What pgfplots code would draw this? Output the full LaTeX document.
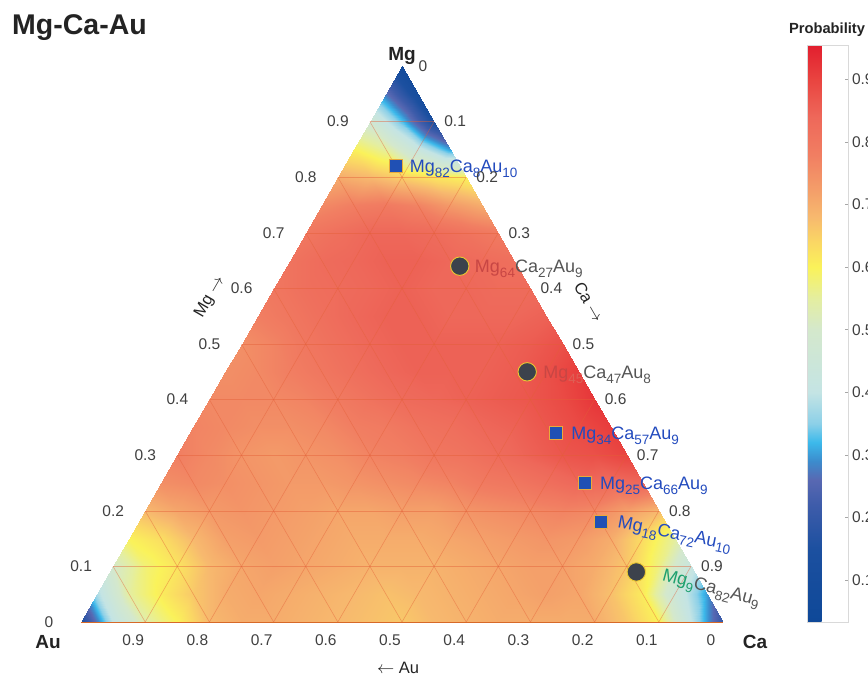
\documentclass[border=0pt]{standalone}
\usepackage{fontspec}
\setmainfont{Liberation Sans}
\usepackage{pgfplots}
\pgfplotsset{compat=1.18}
\definecolor{tickgray}{RGB}{64,64,64}
\definecolor{titlec}{RGB}{35,35,35}
\definecolor{lblue}{RGB}{35,75,190}
\definecolor{lgray}{RGB}{85,85,85}
\definecolor{lred}{RGB}{200,70,68}
\definecolor{lred2}{RGB}{222,95,85}
\definecolor{lgreen}{RGB}{30,160,110}
\definecolor{mblue}{RGB}{32,80,180}
\definecolor{medge}{RGB}{232,170,60}
\definecolor{cdark}{RGB}{60,66,76}
\definecolor{cedge}{RGB}{235,200,50}
\definecolor{gridc}{RGB}{228,95,55}
\definecolor{edgec}{RGB}{215,105,40}
\pgfplotsset{colormap={prob}{
rgb255(0pt)=(14,72,152);
rgb255(117pt)=(28,80,160);
rgb255(187pt)=(62,92,170);
rgb255(227pt)=(88,104,178);
rgb255(257pt)=(60,140,205);
rgb255(287pt)=(60,185,235);
rgb255(317pt)=(140,208,232);
rgb255(367pt)=(196,228,228);
rgb255(467pt)=(212,232,204);
rgb255(517pt)=(228,238,160);
rgb255(567pt)=(250,242,90);
rgb255(607pt)=(250,215,100);
rgb255(647pt)=(247,185,110);
rgb255(687pt)=(244,160,106);
rgb255(747pt)=(241,126,98);
rgb255(807pt)=(238,104,90);
rgb255(867pt)=(233,68,64);
rgb255(922pt)=(226,30,46)}}
\newcommand{\sbs}[1]{\raisebox{-5bp}{\fontsize{13.5bp}{14bp}\selectfont #1}}
\newcommand{\lbl}{\fontsize{18bp}{20bp}\selectfont}
\newcommand{\tkf}{\fontsize{15.5bp}{17bp}\selectfont}
\newcommand{\axf}{\fontsize{16.5bp}{18bp}\selectfont}
\newcommand{\vxf}{\bfseries\fontsize{19bp}{21bp}\selectfont}
\tikzset{gridl/.style={draw=gridc, draw opacity=0.45, line width=0.6bp},
         edgel/.style={draw=edgec, line width=0.9bp}}
\begin{document}
\begin{tikzpicture}[x=1bp,y=1bp]
\useasboundingbox (0,0) rectangle (868,677);
\begin{axis}[
  at={(81bp,55bp)}, anchor=south west,
  width=642bp, height=556bp, scale only axis,
  view={0}{90},
  xmin=0, xmax=1, ymin=0, ymax=0.8660254, zmin=-1, zmax=1,
  hide axis, clip=false,
  colormap name=prob,
  point meta min=0.033, point meta max=0.955,
  colorbar,
  colorbar style={
    at={(parent axis.south east)}, anchor=south west, xshift=76bp,
    width=41bp, height=577bp, scale only axis,
    ytick={0.1,0.2,0.3,0.4,0.5,0.6,0.7,0.8,0.9},
    ytick pos=right, yticklabel pos=right,
    tick align=inside, major tick length=4bp,
    major tick style={draw=gray!70, line width=0.6bp},
    axis line style={draw=gray!30, line width=0.5bp},
    yticklabel style={font=\tkf, text=tickgray, /pgf/number format/fixed, /pgf/number format/precision=1, /pgf/number format/assume math mode=true},
  },
]
\addplot3[surf, shader=interp, mesh/rows=21, mesh/cols=21, point meta=\thisrow{p}]
 table[row sep=\\, x expr=\thisrow{Ca}+0.5*\thisrow{Mg}, y expr=0.8660254*\thisrow{Mg}, z expr=0] {
Mg Ca p\\
0 0 0.15\\ 0 0.05 0.40\\ 0 0.1 0.54\\ 0 0.15 0.60\\ 0 0.2 0.68\\ 0 0.25 0.70\\ 0 0.3 0.70\\ 0 0.35 0.69\\ 0 0.4 0.68\\ 0 0.45 0.67\\ 0 0.5 0.66\\ 0 0.55 0.68\\ 0 0.6 0.69\\ 0 0.65 0.70\\ 0 0.7 0.70\\ 0 0.75 0.70\\ 0 0.8 0.70\\ 0 0.85 0.66\\ 0 0.9 0.60\\ 0 0.95 0.40\\ 0 1 0.20\\
0.05 0 0.38\\ 0.05 0.05 0.55\\ 0.05 0.1 0.61\\ 0.05 0.15 0.66\\ 0.05 0.2 0.70\\ 0.05 0.25 0.71\\ 0.05 0.3 0.70\\ 0.05 0.35 0.69\\ 0.05 0.4 0.68\\ 0.05 0.45 0.67\\ 0.05 0.5 0.68\\ 0.05 0.55 0.69\\ 0.05 0.6 0.70\\ 0.05 0.65 0.71\\ 0.05 0.7 0.72\\ 0.05 0.75 0.71\\ 0.05 0.8 0.67\\ 0.05 0.85 0.61\\ 0.05 0.9 0.45\\ 0.05 0.95 0.30\\ 0.05 0.95 0.30\\
0.1 0 0.50\\ 0.1 0.05 0.58\\ 0.1 0.1 0.62\\ 0.1 0.15 0.68\\ 0.1 0.2 0.71\\ 0.1 0.25 0.72\\ 0.1 0.3 0.71\\ 0.1 0.35 0.70\\ 0.1 0.4 0.69\\ 0.1 0.45 0.69\\ 0.1 0.5 0.69\\ 0.1 0.55 0.70\\ 0.1 0.6 0.71\\ 0.1 0.65 0.72\\ 0.1 0.7 0.72\\ 0.1 0.75 0.70\\ 0.1 0.8 0.66\\ 0.1 0.85 0.57\\ 0.1 0.9 0.42\\ 0.1 0.9 0.42\\ 0.1 0.9 0.42\\
0.15 0 0.60\\ 0.15 0.05 0.63\\ 0.15 0.1 0.68\\ 0.15 0.15 0.72\\ 0.15 0.2 0.73\\ 0.15 0.25 0.72\\ 0.15 0.3 0.71\\ 0.15 0.35 0.70\\ 0.15 0.4 0.70\\ 0.15 0.45 0.70\\ 0.15 0.5 0.71\\ 0.15 0.55 0.72\\ 0.15 0.6 0.73\\ 0.15 0.65 0.74\\ 0.15 0.7 0.73\\ 0.15 0.75 0.70\\ 0.15 0.8 0.63\\ 0.15 0.85 0.55\\ 0.15 0.85 0.55\\ 0.15 0.85 0.55\\ 0.15 0.85 0.55\\
0.2 0 0.68\\ 0.2 0.05 0.71\\ 0.2 0.1 0.73\\ 0.2 0.15 0.74\\ 0.2 0.2 0.73\\ 0.2 0.25 0.72\\ 0.2 0.3 0.71\\ 0.2 0.35 0.71\\ 0.2 0.4 0.72\\ 0.2 0.45 0.72\\ 0.2 0.5 0.74\\ 0.2 0.55 0.75\\ 0.2 0.6 0.76\\ 0.2 0.65 0.77\\ 0.2 0.7 0.76\\ 0.2 0.75 0.72\\ 0.2 0.8 0.68\\ 0.2 0.8 0.68\\ 0.2 0.8 0.68\\ 0.2 0.8 0.68\\ 0.2 0.8 0.68\\
0.25 0 0.75\\ 0.25 0.05 0.76\\ 0.25 0.1 0.75\\ 0.25 0.15 0.74\\ 0.25 0.2 0.73\\ 0.25 0.25 0.73\\ 0.25 0.3 0.74\\ 0.25 0.35 0.75\\ 0.25 0.4 0.76\\ 0.25 0.45 0.77\\ 0.25 0.5 0.79\\ 0.25 0.55 0.80\\ 0.25 0.6 0.82\\ 0.25 0.65 0.84\\ 0.25 0.7 0.83\\ 0.25 0.75 0.84\\ 0.25 0.75 0.84\\ 0.25 0.75 0.84\\ 0.25 0.75 0.84\\ 0.25 0.75 0.84\\ 0.25 0.75 0.84\\
0.3 0 0.78\\ 0.3 0.05 0.76\\ 0.3 0.1 0.74\\ 0.3 0.15 0.73\\ 0.3 0.2 0.74\\ 0.3 0.25 0.75\\ 0.3 0.3 0.77\\ 0.3 0.35 0.78\\ 0.3 0.4 0.80\\ 0.3 0.45 0.81\\ 0.3 0.5 0.83\\ 0.3 0.55 0.85\\ 0.3 0.6 0.87\\ 0.3 0.65 0.88\\ 0.3 0.7 0.90\\ 0.3 0.7 0.90\\ 0.3 0.7 0.90\\ 0.3 0.7 0.90\\ 0.3 0.7 0.90\\ 0.3 0.7 0.90\\ 0.3 0.7 0.90\\
0.35 0 0.77\\ 0.35 0.05 0.76\\ 0.35 0.1 0.75\\ 0.35 0.15 0.75\\ 0.35 0.2 0.76\\ 0.35 0.25 0.78\\ 0.35 0.3 0.79\\ 0.35 0.35 0.81\\ 0.35 0.4 0.82\\ 0.35 0.45 0.84\\ 0.35 0.5 0.85\\ 0.35 0.55 0.87\\ 0.35 0.6 0.89\\ 0.35 0.65 0.91\\ 0.35 0.65 0.91\\ 0.35 0.65 0.91\\ 0.35 0.65 0.91\\ 0.35 0.65 0.91\\ 0.35 0.65 0.91\\ 0.35 0.65 0.91\\ 0.35 0.65 0.91\\
0.4 0 0.76\\ 0.4 0.05 0.76\\ 0.4 0.1 0.76\\ 0.4 0.15 0.77\\ 0.4 0.2 0.79\\ 0.4 0.25 0.81\\ 0.4 0.3 0.83\\ 0.4 0.35 0.84\\ 0.4 0.4 0.85\\ 0.4 0.45 0.86\\ 0.4 0.5 0.87\\ 0.4 0.55 0.89\\ 0.4 0.6 0.92\\ 0.4 0.6 0.92\\ 0.4 0.6 0.92\\ 0.4 0.6 0.92\\ 0.4 0.6 0.92\\ 0.4 0.6 0.92\\ 0.4 0.6 0.92\\ 0.4 0.6 0.92\\ 0.4 0.6 0.92\\
0.45 0 0.75\\ 0.45 0.05 0.76\\ 0.45 0.1 0.78\\ 0.45 0.15 0.80\\ 0.45 0.2 0.82\\ 0.45 0.25 0.84\\ 0.45 0.3 0.85\\ 0.45 0.35 0.85\\ 0.45 0.4 0.85\\ 0.45 0.45 0.86\\ 0.45 0.5 0.88\\ 0.45 0.55 0.91\\ 0.45 0.55 0.91\\ 0.45 0.55 0.91\\ 0.45 0.55 0.91\\ 0.45 0.55 0.91\\ 0.45 0.55 0.91\\ 0.45 0.55 0.91\\ 0.45 0.55 0.91\\ 0.45 0.55 0.91\\ 0.45 0.55 0.91\\
0.5 0 0.75\\ 0.5 0.05 0.77\\ 0.5 0.1 0.80\\ 0.5 0.15 0.82\\ 0.5 0.2 0.84\\ 0.5 0.25 0.85\\ 0.5 0.3 0.85\\ 0.5 0.35 0.85\\ 0.5 0.4 0.85\\ 0.5 0.45 0.86\\ 0.5 0.5 0.88\\ 0.5 0.5 0.88\\ 0.5 0.5 0.88\\ 0.5 0.5 0.88\\ 0.5 0.5 0.88\\ 0.5 0.5 0.88\\ 0.5 0.5 0.88\\ 0.5 0.5 0.88\\ 0.5 0.5 0.88\\ 0.5 0.5 0.88\\ 0.5 0.5 0.88\\
0.55 0 0.78\\ 0.55 0.05 0.80\\ 0.55 0.1 0.82\\ 0.55 0.15 0.84\\ 0.55 0.2 0.85\\ 0.55 0.25 0.85\\ 0.55 0.3 0.84\\ 0.55 0.35 0.84\\ 0.55 0.4 0.84\\ 0.55 0.45 0.85\\ 0.55 0.45 0.85\\ 0.55 0.45 0.85\\ 0.55 0.45 0.85\\ 0.55 0.45 0.85\\ 0.55 0.45 0.85\\ 0.55 0.45 0.85\\ 0.55 0.45 0.85\\ 0.55 0.45 0.85\\ 0.55 0.45 0.85\\ 0.55 0.45 0.85\\ 0.55 0.45 0.85\\
0.6 0 0.80\\ 0.6 0.05 0.82\\ 0.6 0.1 0.83\\ 0.6 0.15 0.84\\ 0.6 0.2 0.85\\ 0.6 0.25 0.84\\ 0.6 0.3 0.84\\ 0.6 0.35 0.83\\ 0.6 0.4 0.83\\ 0.6 0.4 0.83\\ 0.6 0.4 0.83\\ 0.6 0.4 0.83\\ 0.6 0.4 0.83\\ 0.6 0.4 0.83\\ 0.6 0.4 0.83\\ 0.6 0.4 0.83\\ 0.6 0.4 0.83\\ 0.6 0.4 0.83\\ 0.6 0.4 0.83\\ 0.6 0.4 0.83\\ 0.6 0.4 0.83\\
0.65 0 0.81\\ 0.65 0.05 0.83\\ 0.65 0.1 0.84\\ 0.65 0.15 0.85\\ 0.65 0.2 0.85\\ 0.65 0.25 0.84\\ 0.65 0.3 0.83\\ 0.65 0.35 0.82\\ 0.65 0.35 0.82\\ 0.65 0.35 0.82\\ 0.65 0.35 0.82\\ 0.65 0.35 0.82\\ 0.65 0.35 0.82\\ 0.65 0.35 0.82\\ 0.65 0.35 0.82\\ 0.65 0.35 0.82\\ 0.65 0.35 0.82\\ 0.65 0.35 0.82\\ 0.65 0.35 0.82\\ 0.65 0.35 0.82\\ 0.65 0.35 0.82\\
0.7 0 0.80\\ 0.7 0.05 0.82\\ 0.7 0.1 0.84\\ 0.7 0.15 0.84\\ 0.7 0.2 0.83\\ 0.7 0.25 0.81\\ 0.7 0.3 0.79\\ 0.7 0.3 0.79\\ 0.7 0.3 0.79\\ 0.7 0.3 0.79\\ 0.7 0.3 0.79\\ 0.7 0.3 0.79\\ 0.7 0.3 0.79\\ 0.7 0.3 0.79\\ 0.7 0.3 0.79\\ 0.7 0.3 0.79\\ 0.7 0.3 0.79\\ 0.7 0.3 0.79\\ 0.7 0.3 0.79\\ 0.7 0.3 0.79\\ 0.7 0.3 0.79\\
0.75 0 0.76\\ 0.75 0.05 0.78\\ 0.75 0.1 0.79\\ 0.75 0.15 0.77\\ 0.75 0.2 0.73\\ 0.75 0.25 0.70\\ 0.75 0.25 0.70\\ 0.75 0.25 0.70\\ 0.75 0.25 0.70\\ 0.75 0.25 0.70\\ 0.75 0.25 0.70\\ 0.75 0.25 0.70\\ 0.75 0.25 0.70\\ 0.75 0.25 0.70\\ 0.75 0.25 0.70\\ 0.75 0.25 0.70\\ 0.75 0.25 0.70\\ 0.75 0.25 0.70\\ 0.75 0.25 0.70\\ 0.75 0.25 0.70\\ 0.75 0.25 0.70\\
0.8 0 0.70\\ 0.8 0.05 0.68\\ 0.8 0.1 0.65\\ 0.8 0.15 0.62\\ 0.8 0.2 0.60\\ 0.8 0.2 0.60\\ 0.8 0.2 0.60\\ 0.8 0.2 0.60\\ 0.8 0.2 0.60\\ 0.8 0.2 0.60\\ 0.8 0.2 0.60\\ 0.8 0.2 0.60\\ 0.8 0.2 0.60\\ 0.8 0.2 0.60\\ 0.8 0.2 0.60\\ 0.8 0.2 0.60\\ 0.8 0.2 0.60\\ 0.8 0.2 0.60\\ 0.8 0.2 0.60\\ 0.8 0.2 0.60\\ 0.8 0.2 0.60\\
0.85 0 0.60\\ 0.85 0.05 0.55\\ 0.85 0.1 0.42\\ 0.85 0.15 0.30\\ 0.85 0.15 0.30\\ 0.85 0.15 0.30\\ 0.85 0.15 0.30\\ 0.85 0.15 0.30\\ 0.85 0.15 0.30\\ 0.85 0.15 0.30\\ 0.85 0.15 0.30\\ 0.85 0.15 0.30\\ 0.85 0.15 0.30\\ 0.85 0.15 0.30\\ 0.85 0.15 0.30\\ 0.85 0.15 0.30\\ 0.85 0.15 0.30\\ 0.85 0.15 0.30\\ 0.85 0.15 0.30\\ 0.85 0.15 0.30\\ 0.85 0.15 0.30\\
0.9 0 0.48\\ 0.9 0.05 0.33\\ 0.9 0.1 0.14\\ 0.9 0.1 0.14\\ 0.9 0.1 0.14\\ 0.9 0.1 0.14\\ 0.9 0.1 0.14\\ 0.9 0.1 0.14\\ 0.9 0.1 0.14\\ 0.9 0.1 0.14\\ 0.9 0.1 0.14\\ 0.9 0.1 0.14\\ 0.9 0.1 0.14\\ 0.9 0.1 0.14\\ 0.9 0.1 0.14\\ 0.9 0.1 0.14\\ 0.9 0.1 0.14\\ 0.9 0.1 0.14\\ 0.9 0.1 0.14\\ 0.9 0.1 0.14\\ 0.9 0.1 0.14\\
0.95 0 0.27\\ 0.95 0.05 0.11\\ 0.95 0.05 0.11\\ 0.95 0.05 0.11\\ 0.95 0.05 0.11\\ 0.95 0.05 0.11\\ 0.95 0.05 0.11\\ 0.95 0.05 0.11\\ 0.95 0.05 0.11\\ 0.95 0.05 0.11\\ 0.95 0.05 0.11\\ 0.95 0.05 0.11\\ 0.95 0.05 0.11\\ 0.95 0.05 0.11\\ 0.95 0.05 0.11\\ 0.95 0.05 0.11\\ 0.95 0.05 0.11\\ 0.95 0.05 0.11\\ 0.95 0.05 0.11\\ 0.95 0.05 0.11\\ 0.95 0.05 0.11\\
1 0 0.08\\ 1 0 0.08\\ 1 0 0.08\\ 1 0 0.08\\ 1 0 0.08\\ 1 0 0.08\\ 1 0 0.08\\ 1 0 0.08\\ 1 0 0.08\\ 1 0 0.08\\ 1 0 0.08\\ 1 0 0.08\\ 1 0 0.08\\ 1 0 0.08\\ 1 0 0.08\\ 1 0 0.08\\ 1 0 0.08\\ 1 0 0.08\\ 1 0 0.08\\ 1 0 0.08\\ 1 0 0.08\\
};
\foreach \m in {0.1,0.2,0.3,0.4,0.5,0.6,0.7,0.8,0.9}{%
  \pgfmathsetmacro\xa{\m/2}%
  \pgfmathsetmacro\xb{1-\m/2}%
  \pgfmathsetmacro\yy{\m*0.8660254}%
  \pgfmathsetmacro\xc{0.5+\m/2}%
  \pgfmathsetmacro\xd{0.5-\m/2}%
  \pgfmathsetmacro\yc{(1-\m)*0.8660254}%
  \pgfmathsetmacro\xe{1-\m}%
  \edef\temp{\noexpand\draw[gridl] (axis cs:\xa,\yy,0) -- (axis cs:\xb,\yy,0);
    \noexpand\draw[gridl] (axis cs:\m,0,0) -- (axis cs:\xc,\yc,0);
    \noexpand\draw[gridl] (axis cs:\xe,0,0) -- (axis cs:\xd,\yc,0);}%
  \temp
}
\draw[edgel] (axis cs:0,0,0) -- (axis cs:1,0,0);
\addplot3[only marks, mark=square*, mark size=6.6bp, mark options={fill=mblue, draw=medge, line width=0.7bp}]
 table[row sep=\\, x expr=\thisrow{Ca}+0.5*\thisrow{Mg}, y expr=0.8660254*\thisrow{Mg}, z expr=0] {
Mg Ca\\ 0.82 0.08\\ 0.34 0.57\\ 0.25 0.66\\ 0.18 0.72\\
};
\addplot3[only marks, mark=*, mark size=9.2bp, mark options={fill=cdark, draw=cedge, line width=0.9bp}]
 table[row sep=\\, x expr=\thisrow{Ca}+0.5*\thisrow{Mg}, y expr=0.8660254*\thisrow{Mg}, z expr=0] {
Mg Ca\\ 0.64 0.27\\ 0.45 0.47\\ 0.09 0.82\\
};
\node[anchor=base west, inner sep=0, xshift=14bp, yshift=-6.5bp, text=lblue] at (axis cs:0.49,0.7101,0) {\lbl Mg\sbs{82}Ca\sbs{8}Au\sbs{10}};
\node[anchor=base west, inner sep=0, xshift=15bp, yshift=-6.5bp] at (axis cs:0.59,0.5543,0) {\lbl\textcolor{lred}{Mg\sbs{64}}\textcolor{lgray}{Ca\sbs{27}Au\sbs{9}}};
\node[anchor=base west, inner sep=0, xshift=16bp, yshift=-6.5bp] at (axis cs:0.695,0.3897,0) {\lbl\textcolor{lred}{Mg}\textcolor{lred2}{\sbs{45}}\textcolor{lgray}{Ca\sbs{47}Au\sbs{8}}};
\node[anchor=base west, inner sep=0, xshift=15bp, yshift=-6.5bp, text=lblue] at (axis cs:0.74,0.2944,0) {\lbl Mg\sbs{34}Ca\sbs{57}Au\sbs{9}};
\node[anchor=base west, inner sep=0, xshift=15bp, yshift=-6.5bp, text=lblue] at (axis cs:0.785,0.2165,0) {\lbl Mg\sbs{25}Ca\sbs{66}Au\sbs{9}};
\node[anchor=base west, inner sep=0, xshift=16bp, yshift=-6bp, rotate=-11, text=lblue] at (axis cs:0.81,0.1559,0) {\lbl Mg\sbs{18}Ca\sbs{72}Au\sbs{10}};
\node[anchor=base west, inner sep=0, xshift=25bp, yshift=-8bp, rotate=-15] at (axis cs:0.865,0.0779,0) {\lbl\textcolor{lgreen}{Mg\sbs{9}}\textcolor{lgray}{Ca\sbs{82}Au\sbs{9}}};
\end{axis}
\node[anchor=base west, inner sep=0, text=titlec, font=\bfseries\fontsize{28.5bp}{30bp}\selectfont] at (12,642) {Mg-Ca-Au};
\node[anchor=base, inner sep=0, text=titlec, font=\bfseries\fontsize{14.7bp}{16bp}\selectfont] at (827,643) {Probability};
\node[anchor=base, inner sep=0, font=\vxf, text=titlec] at (402,616) {Mg};
\node[anchor=base, inner sep=0, font=\vxf, text=titlec] at (48,28) {Au};
\node[anchor=base, inner sep=0, font=\vxf, text=titlec] at (755,28) {Ca};
\foreach \m in {0,0.1,0.2,0.3,0.4,0.5,0.6,0.7,0.8,0.9}{
  \node[font=\tkf, text=tickgray, inner sep=0] at ({81+321*\m-32},{55+556*\m}) {\m};
  \node[font=\tkf, text=tickgray, inner sep=0] at ({402+321*\m+21},{611-556*\m}) {\m};
  \node[font=\tkf, text=tickgray, inner sep=0] at ({723-642*\m-12},37) {\m};
}
\node[rotate=60, font=\axf, text=titlec] at (210,380) {Mg $\rightarrow$};
\node[rotate=-60, font=\axf, text=titlec] at (589,375) {Ca $\rightarrow$};
\node[font=\axf, text=titlec] at (398,9) {$\leftarrow$ Au};
\end{tikzpicture}
\end{document}
